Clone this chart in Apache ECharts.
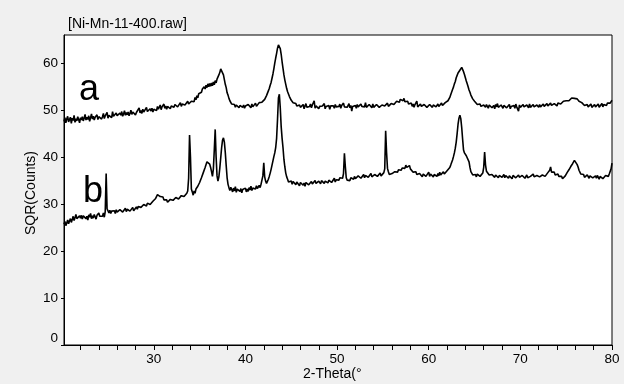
<!DOCTYPE html>
<html>
<head>
<meta charset="utf-8">
<script src="https://cdn.jsdelivr.net/npm/echarts@6/dist/echarts.min.js"></script>
<style>
  html, body { margin: 0; padding: 0; background: #f0f0f0; }
  #chart { width: 624px; height: 384px; }
</style>
</head>
<body>
<div id="chart"></div>
<script>
// 2-Theta grid: start, step (deg)
var thetaStart = 20.2;
var thetaStep = 0.1;

// curve a, SQR(Counts), 2 deg per row (20.2 .. 80.0)
var seriesA = [
  47.6, 48.4, 47.3, 48.1, 48.7, 47.5, 47.9, 48.5, 47.2, 48.3, 47.8, 48.9, 47.4, 48.2, 47.7, 48.6, 48.0, 47.3, 48.4, 47.9,
  48.6, 47.7, 48.3, 49.1, 47.9, 48.5, 48.0, 48.8, 47.6, 48.4, 49.2, 48.1, 48.7, 47.9, 48.5, 48.2, 49.0, 48.0, 48.6, 48.3,
  48.9, 48.1, 48.6, 49.3, 48.2, 48.8, 48.4, 49.5, 48.3, 48.9, 48.6, 49.2, 48.4, 49.7, 48.7, 49.0, 48.5, 49.4, 48.8, 49.1,
  48.6, 49.4, 48.9, 49.7, 48.7, 49.2, 49.9, 48.9, 49.5, 49.0, 49.6, 48.8, 49.3, 50.0, 49.1, 49.6, 49.2, 49.8, 49.0, 49.5,
  49.7, 49.1, 50.5, 49.4, 49.9, 49.3, 50.2, 49.6, 50.0, 49.5, 50.6, 49.7, 50.1, 49.5, 50.3, 49.8, 50.4, 49.6, 50.2, 49.9,
  50.5, 49.9, 50.8, 50.2, 50.4, 51.1, 50.1, 50.7, 50.3, 51.3, 50.4, 50.9, 50.2, 50.8, 50.6, 51.2, 50.3, 50.9, 50.5, 51.0,
  50.6, 51.2, 50.8, 51.5, 50.7, 51.1, 50.9, 51.6, 50.8, 51.3, 51.0, 51.7, 51.1, 51.4, 51.2, 51.9, 51.3, 51.6, 51.5, 51.9,
  51.6, 52.3, 51.8, 52.7, 52.2, 53.1, 52.6, 53.5, 53.2, 53.9, 53.8, 54.5, 54.2, 55.0, 54.5, 55.3, 54.8, 55.6, 55.0, 55.7,
  55.1, 55.8, 55.2, 56.0, 55.4, 56.3, 55.8, 56.6, 56.7, 57.5, 58.0, 58.8, 58.7, 58.6, 57.5, 56.5, 55.5, 54.8, 53.7, 53.2,
  52.5, 52.0, 51.7, 51.3, 51.5, 50.9, 51.2, 50.6, 51.1, 50.8, 51.4, 50.5, 51.0, 50.7, 51.3, 50.6, 51.1, 50.4, 50.9, 51.2,
  50.6, 51.2, 50.8, 51.0, 50.5, 51.3, 50.7, 51.1, 50.9, 51.5, 50.8, 51.2, 51.0, 51.6, 51.3, 51.4, 51.7, 51.6, 52.0, 52.3,
  52.6, 53.1, 53.5, 54.1, 54.6, 55.3, 55.9, 56.8, 57.7, 58.8, 60.0, 61.1, 62.1, 63.2, 63.9, 63.8, 63.1, 61.9, 60.3, 58.9,
  57.5, 56.4, 55.5, 54.6, 53.9, 53.5, 52.9, 52.6, 52.1, 52.0, 51.6, 51.7, 51.2, 51.4, 50.9, 51.3, 50.7, 51.1, 50.6, 51.0,
  50.5, 51.2, 50.3, 50.9, 51.4, 50.6, 51.0, 50.2, 50.8, 51.3, 50.5, 51.1, 50.7, 52.0, 50.4, 50.9, 50.6, 51.2, 50.3, 50.8,
  51.1, 50.4, 50.9, 50.6, 51.4, 50.3, 50.8, 51.2, 50.5, 51.0, 50.2, 50.9, 51.3, 50.6, 50.9, 50.4, 51.2, 50.7, 51.0, 50.5,
  50.8, 51.3, 50.4, 51.0, 50.6, 51.5, 50.7, 50.3, 51.1, 50.6, 50.9, 51.4, 50.5, 51.0, 49.8, 50.8, 51.2, 50.6, 51.0, 50.4,
  51.2, 50.7, 51.0, 50.4, 51.3, 50.8, 50.5, 51.1, 50.7, 51.6, 50.6, 50.9, 50.3, 51.2, 50.8, 51.0, 50.5, 51.3, 50.6, 50.9,
  50.5, 51.2, 50.8, 51.4, 50.6, 51.0, 50.4, 51.1, 50.7, 51.3, 50.9, 51.0, 50.6, 51.5, 50.8, 51.2, 51.0, 51.4, 51.1, 51.3,
  51.2, 51.6, 51.4, 51.9, 51.5, 52.1, 51.7, 52.3, 51.9, 52.4, 52.0, 52.5, 51.8, 52.2, 51.6, 51.9, 51.3, 51.7, 51.1, 51.5,
  50.8, 51.3, 50.6, 51.2, 50.9, 51.9, 50.7, 51.0, 50.5, 51.3, 50.8, 51.1, 50.4, 51.2, 50.9, 51.4, 50.6, 51.0, 50.7, 51.2,
  50.9, 51.3, 50.6, 51.1, 50.8, 51.4, 50.7, 51.0, 51.3, 50.8, 51.2, 50.9, 51.5, 51.0, 51.3, 51.1, 51.6, 51.4, 51.8, 52.0,
  52.3, 52.7, 53.3, 53.7, 54.4, 54.9, 55.6, 56.1, 56.9, 57.4, 57.9, 58.3, 58.5, 58.9, 59.1, 58.7, 58.2, 57.6, 56.9, 56.2,
  55.6, 55.0, 54.3, 53.8, 53.2, 52.8, 52.4, 52.1, 51.9, 51.6, 51.7, 51.2, 51.5, 51.0, 51.3, 50.8, 51.2, 50.7, 51.1, 50.9,
  50.6, 51.2, 50.8, 50.4, 51.1, 50.7, 51.3, 50.5, 50.9, 51.0, 50.3, 51.2, 50.7, 51.4, 50.6, 50.9, 50.5, 51.1, 50.8, 50.4,
  51.0, 50.6, 51.3, 50.5, 50.9, 50.7, 51.2, 50.3, 50.8, 51.1, 50.6, 51.0, 50.4, 51.3, 50.7, 50.9, 49.8, 51.1, 50.6, 50.9,
  50.5, 51.2, 50.7, 51.0, 50.3, 51.1, 50.8, 50.5, 51.3, 50.6, 50.9, 50.4, 51.2, 50.7, 51.0, 50.5, 51.1, 50.8, 50.6, 51.2,
  50.7, 51.0, 50.5, 51.3, 50.8, 51.1, 50.6, 51.4, 50.9, 51.2, 50.7, 51.5, 51.0, 51.3, 50.8, 51.4, 51.1, 51.2, 50.9, 51.5,
  51.2, 51.5, 51.3, 51.7, 51.4, 51.9, 51.6, 51.8, 52.0, 51.8, 52.2, 52.0, 52.4, 52.2, 52.6, 52.3, 52.7, 52.5, 52.8, 52.5,
  52.4, 52.2, 51.9, 51.8, 51.5, 51.6, 51.2, 51.4, 51.0, 51.3, 50.8, 51.2, 50.7, 51.1, 50.9, 51.3, 50.6, 51.0, 50.8, 51.2,
  50.7, 51.1, 50.8, 51.3, 50.6, 51.0, 50.9, 51.4, 50.7, 51.2, 50.9, 51.3, 51.0, 51.5, 51.2, 51.6, 51.5, 51.9, 52.1
];

// curve b
var seriesB = [
  25.7, 26.3, 25.4, 26.0, 26.6, 25.8, 26.4, 26.9, 26.1, 26.7, 27.4, 26.5, 27.1, 27.8, 26.9, 27.3, 26.7, 27.5, 27.0, 27.6,
  26.8, 27.5, 27.1, 27.9, 26.9, 27.4, 26.6, 27.7, 27.2, 28.0, 26.9, 27.5, 27.0, 27.8, 27.3, 26.8, 27.6, 27.2, 28.1, 27.4,
  27.0, 27.8, 27.4, 28.1, 27.2, 28.4, 36.5, 29.0, 28.6, 28.1, 28.7, 28.0, 28.5, 28.9, 28.2, 28.6, 28.0, 28.8, 28.3, 28.7,
  28.2, 28.8, 28.4, 29.0, 28.3, 28.7, 28.5, 29.1, 28.4, 28.9, 28.6, 29.2, 28.5, 28.8, 28.7, 29.3, 28.6, 29.0, 28.8, 29.4,
  28.9, 29.5, 29.1, 29.7, 29.3, 29.6, 29.2, 29.9, 29.5, 30.0, 29.6, 30.2, 29.8, 30.4, 29.9, 30.3, 30.1, 30.6, 30.4, 30.9,
  31.2, 31.6, 32.0, 31.7, 32.2, 31.6, 31.9, 31.3, 31.5, 30.9, 31.2, 30.6, 30.9, 30.4, 30.8, 30.5, 31.0, 30.6, 31.1, 30.8,
  31.2, 30.8, 31.4, 31.0, 31.6, 31.1, 31.5, 31.3, 31.8, 31.4, 31.9, 31.6, 32.0, 31.8, 32.3, 32.8, 35.5, 44.7, 40.0, 33.2,
  32.6, 31.9, 32.8, 32.3, 33.2, 32.9, 33.8, 33.7, 34.6, 34.6, 35.6, 35.6, 36.7, 36.6, 37.8, 37.8, 39.0, 39.4, 39.2, 38.5,
  37.8, 36.9, 35.9, 37.5, 41.5, 45.9, 40.0, 36.0, 34.9, 35.8, 37.6, 39.8, 42.0, 43.6, 44.1, 43.2, 41.0, 38.2, 35.6, 34.2,
  33.5, 32.9, 33.6, 33.1, 32.6, 33.4, 32.8, 33.7, 32.5, 33.2, 32.9, 33.6, 32.7, 33.3, 32.4, 33.1, 33.5, 32.8, 33.4, 32.6,
  33.2, 32.7, 33.5, 33.0, 33.8, 32.9, 33.4, 33.1, 33.7, 33.2, 33.9, 33.3, 33.6, 34.0, 33.5, 34.2, 34.6, 36.0, 38.8, 35.8,
  34.9, 34.4, 34.8, 35.3, 35.9, 36.6, 37.4, 38.3, 39.2, 40.1, 40.9, 42.0, 44.0, 48.0, 52.6, 53.4, 50.5, 46.5, 44.0, 42.0,
  39.5, 37.9, 36.6, 35.8, 35.3, 34.7, 35.1, 34.5, 34.9, 34.2, 34.8, 34.4, 35.0, 34.1, 34.7, 34.3, 34.9, 33.9, 34.6, 34.2,
  34.7, 34.0, 34.5, 33.8, 34.6, 34.2, 34.9, 34.1, 34.4, 33.7, 34.8, 34.3, 34.6, 34.0, 35.0, 34.4, 34.7, 34.1, 34.9, 34.5,
  34.3, 35.0, 34.6, 35.2, 34.4, 34.9, 34.7, 35.3, 34.5, 35.1, 34.8, 35.4, 34.6, 35.0, 34.9, 35.5, 34.7, 35.2, 35.0, 35.4,
  35.1, 35.6, 35.2, 35.8, 35.5, 36.5, 40.8, 38.0, 35.6, 35.1, 34.8, 35.4, 35.0, 35.6, 35.2, 35.7, 35.3, 35.9, 35.4, 35.8,
  35.4, 36.0, 35.6, 36.2, 35.5, 35.9, 35.7, 36.3, 35.6, 36.1, 35.8, 36.4, 35.7, 36.0, 35.9, 36.5, 35.8, 36.2, 36.0, 36.3,
  36.0, 36.5, 35.9, 36.3, 36.1, 36.6, 36.0, 36.4, 36.2, 36.7, 37.5, 45.6, 41.0, 37.6, 36.9, 36.3, 36.7, 36.1, 36.5, 36.4,
  36.6, 36.9, 36.5, 37.1, 36.8, 37.3, 36.9, 37.5, 37.2, 37.7, 37.4, 38.0, 37.6, 38.3, 37.8, 38.1, 37.7, 38.2, 37.5, 37.8,
  37.2, 36.8, 37.1, 36.5, 36.9, 36.3, 36.7, 35.9, 36.5, 36.1, 36.7, 35.8, 36.4, 36.0, 36.6, 35.9, 36.3, 36.1, 36.8, 35.9,
  36.4, 36.0, 36.6, 35.8, 36.3, 36.1, 36.7, 35.9, 36.5, 36.0, 36.8, 36.2, 36.5, 36.1, 36.9, 36.4, 36.7, 36.6, 37.1, 37.0,
  37.4, 37.8, 38.3, 38.7, 39.4, 40.1, 40.9, 41.9, 43.2, 45.0, 47.0, 48.3, 48.9, 48.2, 46.3, 43.8, 41.5, 40.9, 40.6, 40.3,
  40.5, 40.1, 39.0, 37.8, 36.9, 36.5, 36.2, 36.6, 35.9, 36.3, 35.8, 36.4, 36.0, 36.5, 35.9, 36.2, 35.8, 36.6, 37.8, 41.1,
  38.3, 37.0, 36.6, 36.9, 36.2, 36.5, 35.8, 36.3, 36.0, 36.6, 35.7, 36.2, 35.9, 36.5, 35.6, 36.1, 35.8, 36.4, 35.7, 36.0,
  36.3, 35.6, 36.1, 35.8, 36.4, 35.5, 36.0, 35.7, 36.2, 35.4, 36.1, 35.8, 36.5, 35.6, 35.9, 35.4, 36.2, 35.7, 36.0, 35.6,
  36.1, 35.7, 36.3, 35.5, 35.9, 36.2, 35.6, 36.0, 35.3, 35.9, 36.2, 35.6, 36.4, 35.8, 36.0, 35.5, 36.1, 35.7, 36.3, 35.8,
  36.0, 35.6, 36.2, 35.8, 36.4, 35.9, 36.1, 36.3, 36.7, 36.5, 37.2, 37.9, 36.8, 37.1, 36.4, 36.8, 36.2, 36.6, 36.0, 36.4,
  35.9, 36.2, 35.6, 35.9, 35.4, 35.7, 35.5, 36.0, 36.3, 36.7, 36.9, 37.3, 37.6, 38.0, 38.3, 38.6, 38.9, 39.3, 39.4, 39.0,
  38.4, 37.9, 37.2, 36.8, 36.4, 36.6, 36.0, 36.3, 35.7, 36.1, 35.6, 36.2, 35.8, 35.5, 36.0, 35.7, 36.3, 35.6, 35.9, 35.4,
  36.0, 35.5, 36.1, 35.7, 35.3, 35.9, 35.6, 36.2, 35.4, 35.8, 35.5, 36.1, 35.7, 36.0, 35.9, 36.4, 36.8, 37.5, 38.7
];

var xTicks = [22, 24, 26, 28, 30, 32, 34, 36, 38, 40, 42, 44, 46, 48, 50,
  52, 54, 56, 58, 60, 62, 64, 66, 68, 70, 72, 74, 76, 78, 80];
var xLabels = [30, 40, 50, 60, 70, 80];

function toPairs(arr) {
  return arr.map(function (v, i) {
    return [+(thetaStart + i * thetaStep).toFixed(1), v];
  });
}

var chart = echarts.init(document.getElementById('chart'));
var font = 'Arial, "Liberation Sans", sans-serif';

var option = {
  animation: false,
  backgroundColor: '#f0f0f0',
  textStyle: { fontFamily: font },
  grid: {
    left: 64, right: 12, top: 35, bottom: 39,
    show: true, backgroundColor: '#fff', borderColor: '#000', borderWidth: 1
  },
  xAxis: {
    type: 'value',
    min: 20.2,
    max: 80,
    axisLine: { show: true, lineStyle: { color: '#000', width: 1 } },
    axisTick: { show: true, length: 5, customValues: xTicks, lineStyle: { color: '#000' } },
    axisLabel: { customValues: xLabels, color: '#000', fontSize: 13.5, margin: 7, fontFamily: font },
    splitLine: { show: false }
  },
  yAxis: {
    type: 'value',
    min: 0,
    max: 66,
    interval: 10,
    axisLine: { show: true, lineStyle: { color: '#000', width: 1 } },
    axisTick: { show: true, length: 3, lineStyle: { color: '#000' } },
    axisLabel: {
      color: '#000', fontSize: 13.5, margin: 6, fontFamily: font,
      showMaxLabel: false, verticalAlignMinLabel: 'bottom'
    },
    splitLine: { show: false }
  },
  graphic: [
    { type: 'text', left: 68, top: 17, style: { text: '[Ni-Mn-11-400.raw]', fontSize: 14, fill: '#000', fontFamily: font } },
    { type: 'text', left: 303, top: 367, style: { text: '2-Theta(°', fontSize: 14, fill: '#000', fontFamily: font } },
    { type: 'text', x: 31, y: 193, rotation: Math.PI / 2,
      style: { text: 'SQR(Counts)', fontSize: 14, fill: '#000', fontFamily: font, align: 'center', verticalAlign: 'middle' } },
    { type: 'text', x: 89, y: 90, style: { text: 'a', fontSize: 36, fill: '#000', fontFamily: font, align: 'center', verticalAlign: 'middle' } },
    { type: 'text', x: 93, y: 192, style: { text: 'b', fontSize: 36, fill: '#000', fontFamily: font, align: 'center', verticalAlign: 'middle' } }
  ],
  series: [
    {
      name: 'a', type: 'line', data: toPairs(seriesA), showSymbol: false,
      lineStyle: { color: '#000', width: 1.6 }, silent: true
    },
    {
      name: 'b', type: 'line', data: toPairs(seriesB), showSymbol: false,
      lineStyle: { color: '#000', width: 1.6 }, silent: true
    }
  ]
};
chart.setOption(option);
</script>
</body>
</html>
